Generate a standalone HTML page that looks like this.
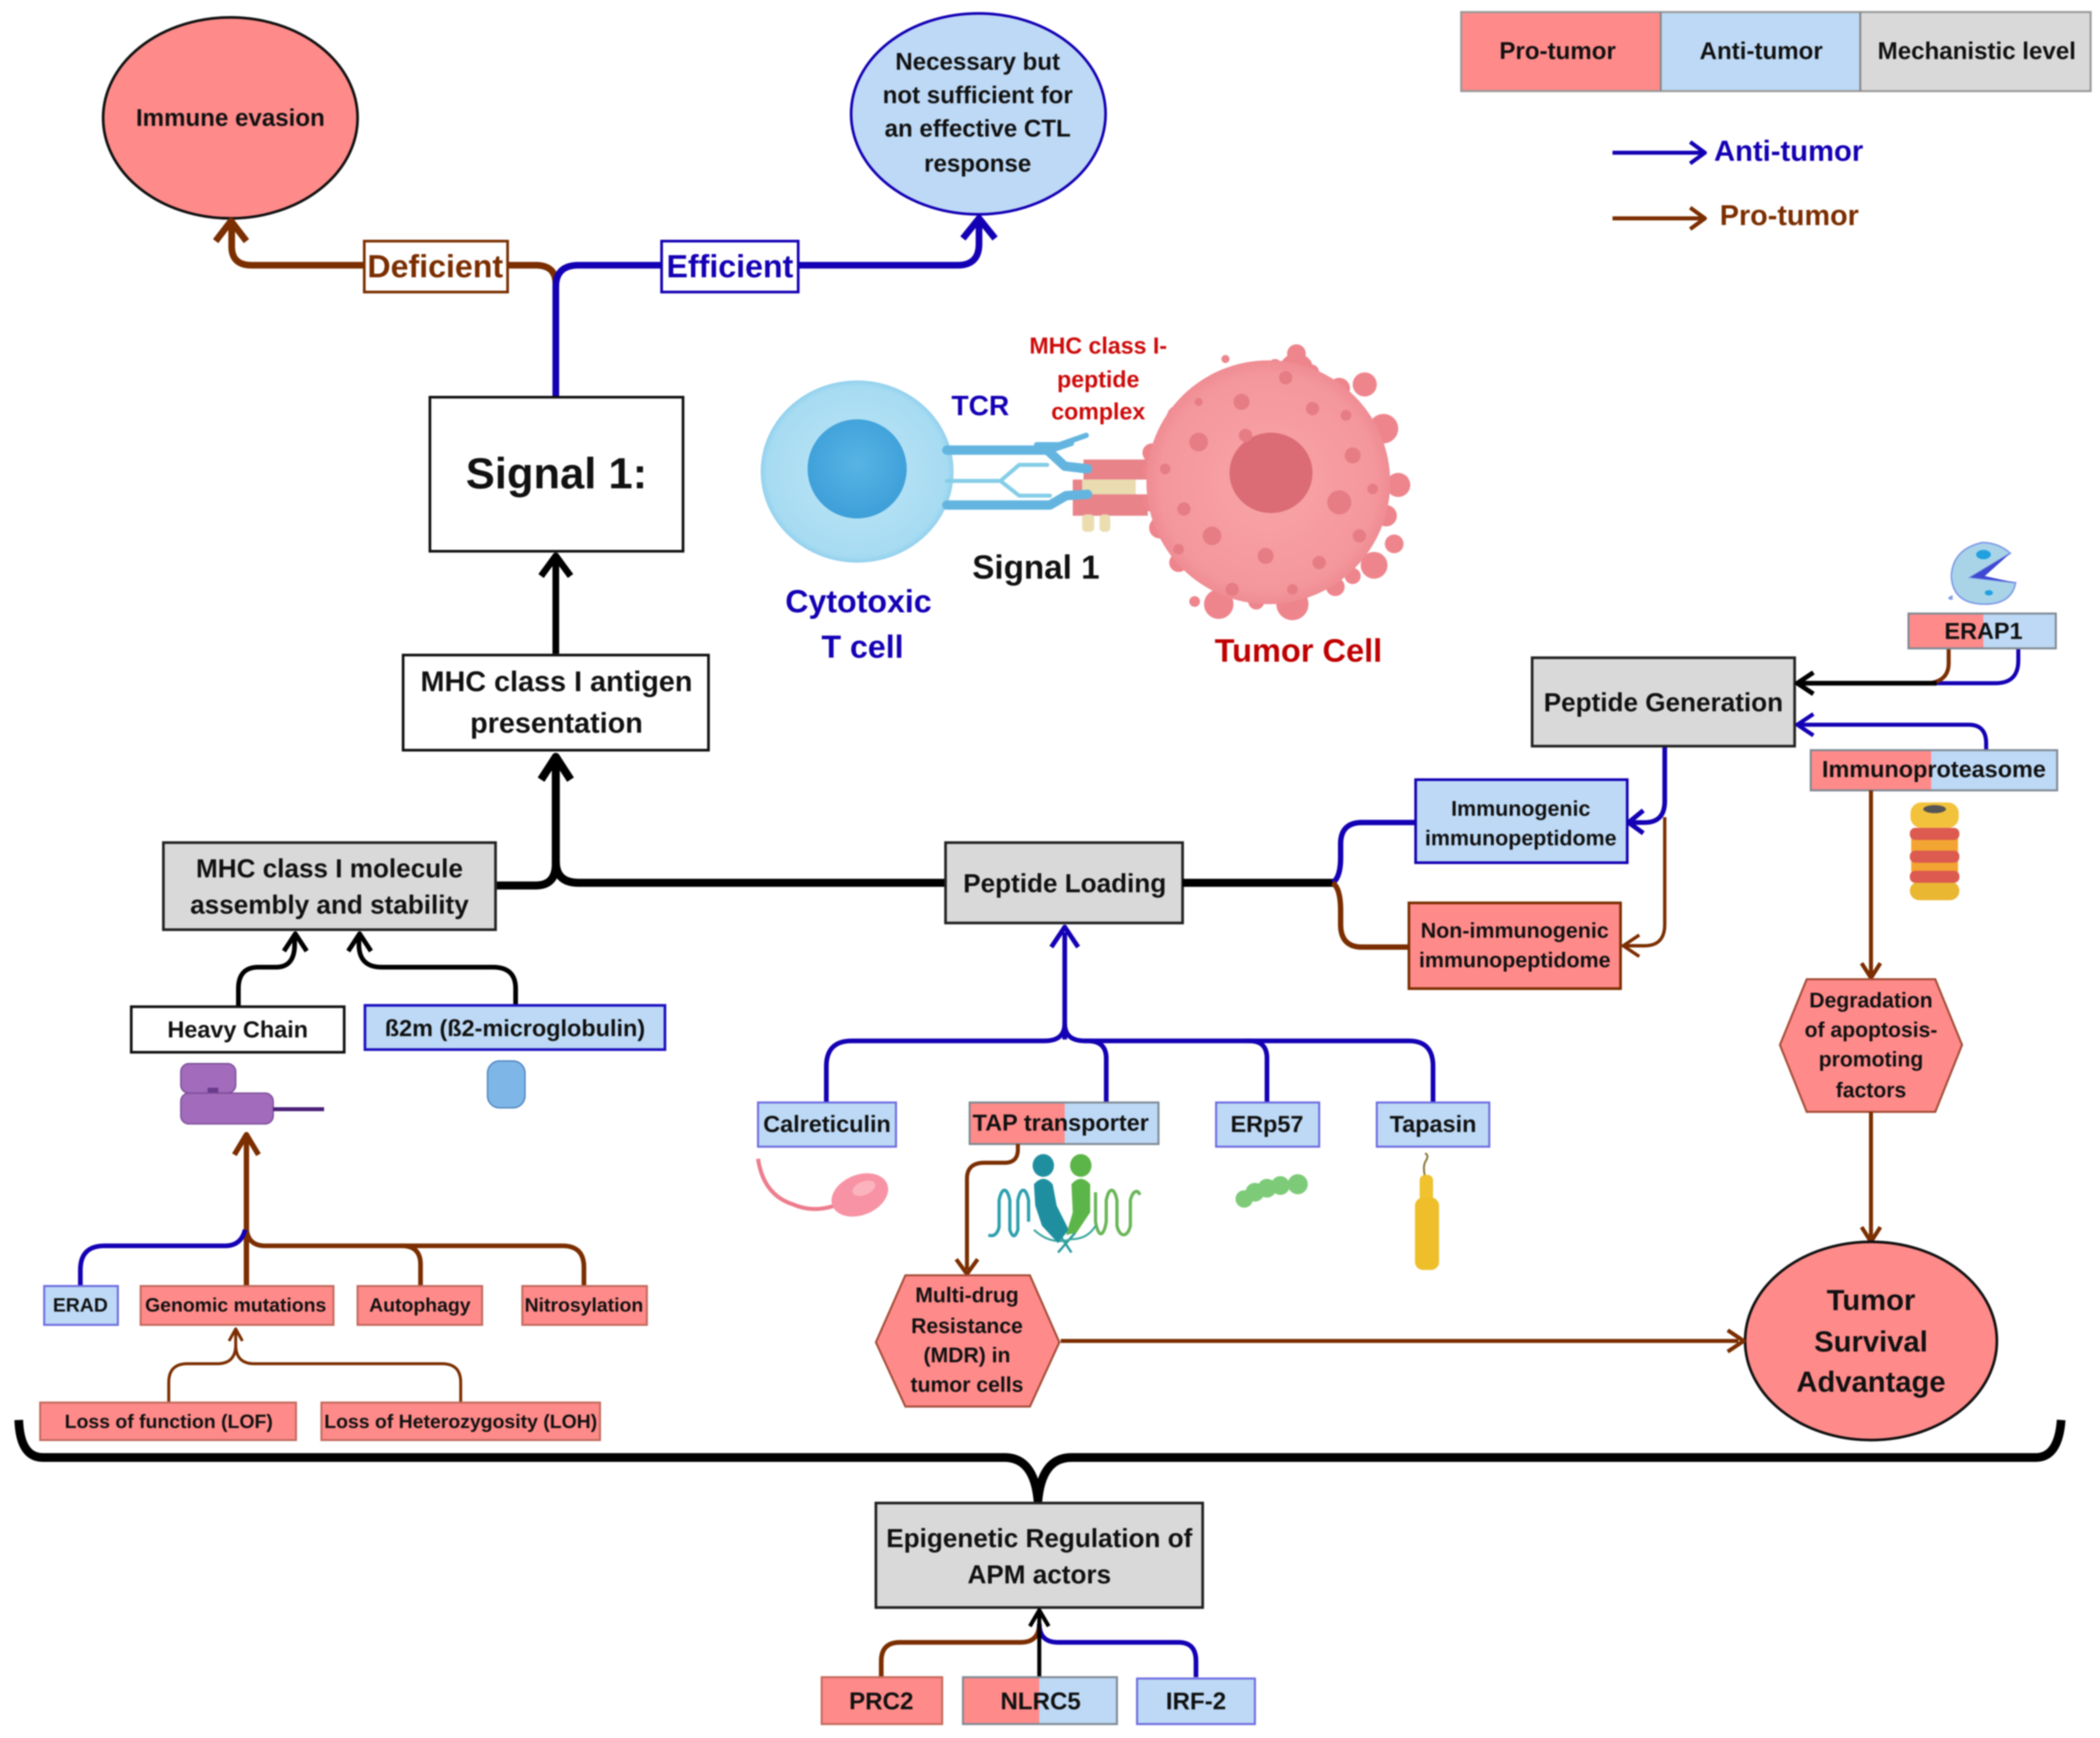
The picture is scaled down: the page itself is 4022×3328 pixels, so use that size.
<!DOCTYPE html>
<html><head><meta charset="utf-8"><title>Signal 1 antigen presentation diagram</title>
<style>
html,body{margin:0;padding:0;background:#fff}
svg{display:block;filter:blur(1.3px)}
text{font-family:"Liberation Sans",sans-serif;font-weight:700;text-anchor:middle;fill:#111}
.c{fill:none;stroke-linecap:butt;stroke-linejoin:round}
.b{stroke:#1400B4}.r{stroke:#7B2E00}.k{stroke:#000}
</style></head><body>
<svg xmlns="http://www.w3.org/2000/svg" width="4022" height="3328" viewBox="0 0 1568 1297.4" preserveAspectRatio="none">
<defs>
<radialGradient id="tc" cx=".5" cy=".5" r=".55"><stop offset="0" stop-color="#BFE6F6"/><stop offset=".85" stop-color="#A6DBF2"/><stop offset="1" stop-color="#74C0E6"/></radialGradient>
<radialGradient id="tn" cx=".5" cy=".45" r=".6"><stop offset="0" stop-color="#58B4E4"/><stop offset="1" stop-color="#3B9DD8"/></radialGradient>
<radialGradient id="tu" cx=".5" cy=".5" r=".55"><stop offset="0" stop-color="#F9A5A8"/><stop offset=".8" stop-color="#F4979C"/><stop offset="1" stop-color="#EA838B"/></radialGradient>
</defs>
<rect width="1568" height="1298" fill="#fff"/>

<!-- legend -->
<rect x="1091" y="9" width="149" height="59" fill="#FF8A8A"/>
<rect x="1240" y="9" width="149" height="59" fill="#BDD9F5"/>
<rect x="1389" y="9" width="172" height="59" fill="#D9D9D9"/>
<rect x="1091" y="9" width="470" height="59" fill="none" stroke="#999" stroke-width="1.5"/>
<path d="M1240 9V68M1389 9V68" stroke="#888" stroke-width="1.5"/>
<text x="1163" y="44" font-size="18">Pro-tumor</text>
<text x="1315" y="44" font-size="18">Anti-tumor</text>
<text x="1476" y="44" font-size="18">Mechanistic level</text>
<path class="c b" stroke-width="3" d="M1204 114H1272M1262 106L1273 114L1262 122"/>
<text x="1335.500" y="120" font-size="21.800" style="fill:#1400B4">Anti-tumor</text>
<path class="c r" stroke-width="3" d="M1204 163H1272M1262 155L1273 163L1262 171"/>
<text x="1336" y="168" font-size="21.500" style="fill:#7B2E00">Pro-tumor</text>

<!-- outcome ellipses -->
<ellipse cx="172" cy="88" rx="95" ry="75" fill="#FF8A8A" stroke="#111" stroke-width="2"/>
<text x="172" y="94" font-size="18">Immune evasion</text>
<ellipse cx="730.500" cy="85" rx="95" ry="75" fill="#BDD9F5" stroke="#1400B4" stroke-width="2"/>
<text x="730" y="52" font-size="18">Necessary but</text>
<text x="730" y="77" font-size="18">not sufficient for</text>
<text x="730" y="102" font-size="18">an effective CTL</text>
<text x="730" y="128" font-size="18">response</text>

<!-- top connectors -->
<path class="c r" stroke-width="5" d="M415 212Q415 198 400 198H188Q173 198 173 184V167M161 180L172.500 165L184 180"/>
<path class="c b" stroke-width="5" d="M415 296V214Q415 198 432 198H715Q731 198 731 182V165M719 178L731 163L743 178"/>
<rect x="272" y="180" width="107" height="38" fill="#fff" stroke="#7B2E00" stroke-width="2"/>
<text x="325" y="207" font-size="24" style="fill:#7B2E00">Deficient</text>
<rect x="494" y="180" width="102" height="38" fill="#fff" stroke="#1400B4" stroke-width="2"/>
<text x="545" y="207" font-size="24" style="fill:#1400B4">Efficient</text>

<rect x="321" y="296.500" width="189" height="115" fill="#fff" stroke="#111" stroke-width="2"/>
<text x="415.500" y="364.500" font-size="32.500">Signal 1:</text>

<path class="c k" stroke-width="5" d="M415 488V418M404 430L415 415L426 430"/>
<rect x="301" y="489" width="228" height="71" fill="#fff" stroke="#111" stroke-width="2"/>
<text x="415.500" y="516" font-size="21.500">MHC class I antigen</text>
<text x="415.500" y="547" font-size="21.500">presentation</text>

<!-- main black -->
<path class="c k" stroke-width="6" d="M371 661H400Q415 661 415 645V568M404 582L415 565L426 582"/>
<path class="c k" stroke-width="6" d="M706 659H432Q415 659 415 643"/>
<rect x="122" y="629" width="248" height="65" fill="#D9D9D9" stroke="#222" stroke-width="2"/>
<text x="246" y="655" font-size="19.500">MHC class I molecule</text>
<text x="246" y="682" font-size="19.500">assembly and stability</text>
<rect x="706" y="629" width="177" height="60" fill="#D9D9D9" stroke="#222" stroke-width="2"/>
<text x="795" y="666" font-size="19.500">Peptide Loading</text>
<path class="c k" stroke-width="6" d="M883 659H996"/>
<path class="c b" stroke-width="4" d="M995 659Q1001 655 1001 640V630Q1001 614 1017 614H1057"/>
<path class="c r" stroke-width="4" d="M995 659Q1001 663 1001 680V690Q1001 707 1017 707H1052"/>
<rect x="1057" y="582" width="158" height="62" fill="#BDD9F5" stroke="#1400B4" stroke-width="2"/>
<text x="1135.500" y="609" font-size="16">Immunogenic</text>
<text x="1135.500" y="631" font-size="16">immunopeptidome</text>
<rect x="1052" y="674" width="158" height="64" fill="#FF8A8A" stroke="#7B2E00" stroke-width="2"/>
<text x="1131" y="700" font-size="16">Non-immunogenic</text>
<text x="1131" y="722" font-size="16">immunopeptidome</text>

<!-- peptide generation -->
<path class="c b" stroke-width="3.500" d="M1243 557V598Q1243 614 1228 614H1218M1227 605L1216 614L1227 622"/>
<path class="c r" stroke-width="2.500" d="M1243 610V690Q1243 706 1228 706H1214M1224 698L1212 706L1224 714"/>
<rect x="1144" y="491" width="196" height="66" fill="#D9D9D9" stroke="#222" stroke-width="2"/>
<text x="1242" y="531" font-size="19.500">Peptide Generation</text>
<path class="c b" stroke-width="3" d="M1507 484V493Q1507 510 1490 510H1445"/>
<path class="c r" stroke-width="3" d="M1455 484V495Q1455 508 1441 510"/>
<path class="c k" stroke-width="3.500" d="M1446 510H1344M1354 502L1342 510L1354 518"/>
<path class="c b" stroke-width="3" d="M1483 560V555Q1483 541 1470 541H1344M1354 533L1342 541L1354 549"/>
<rect x="1425" y="458" width="56" height="26" fill="#FF8A8A"/>
<rect x="1481" y="458" width="54" height="26" fill="#BDD9F5"/>
<rect x="1425" y="458" width="110" height="26" fill="none" stroke="#7F8A94" stroke-width="1.500"/>
<text x="1481" y="477" font-size="17.500">ERAP1</text>
<rect x="1352" y="560" width="90" height="30" fill="#FF8A8A"/>
<rect x="1442" y="560" width="94" height="30" fill="#BDD9F5"/>
<rect x="1352" y="560" width="184" height="30" fill="none" stroke="#7F8A94" stroke-width="1.500"/>
<text x="1444" y="580" font-size="17.500">Immunoproteasome</text>

<!-- pacman -->
<g>
<path d="M1501 413Q1492 405 1480 405Q1458 410 1457 430Q1458 451 1482 451Q1502 451 1505 435L1471 431Z" fill="#A9D4E8" stroke="#7F9BE6" stroke-width="1.200"/>
<path d="M1501 413L1471 431L1505 435L1482 430Z" fill="#3F48D0"/>
<ellipse cx="1481" cy="414" rx="5.500" ry="3.500" fill="#21A0E0"/>
<ellipse cx="1485" cy="442.500" rx="3" ry="2" fill="#21A0E0"/>
<path d="M1458 447Q1453 447 1458 445" stroke="#7F9BE6" fill="none" stroke-width="1.500"/>
</g>

<!-- immunoproteasome icon -->
<g>
<rect x="1426.500" y="599" width="36" height="19" rx="8" fill="#F2C23C"/>
<rect x="1426" y="658" width="37" height="14" rx="7" fill="#E9B732"/>
<rect x="1427" y="626" width="35" height="10" fill="#F2A532"/>
<rect x="1427" y="643" width="35" height="8" fill="#F2A532"/>
<rect x="1426" y="618" width="37" height="9" rx="4" fill="#DC5A50"/>
<rect x="1426" y="635" width="37" height="9" rx="4" fill="#DC5A50"/>
<rect x="1426" y="650" width="37" height="9" rx="4" fill="#DC5A50"/>
<ellipse cx="1444.500" cy="604" rx="8.500" ry="3" fill="#555"/>
</g>

<!-- right brown flow -->
<path class="c r" stroke-width="3" d="M1397 590V727M1390 719L1397 730L1404 719"/>
<polygon points="1329,780 1349,731 1445,731 1465,780 1445,830 1349,830" fill="#FF8A8A" stroke="#A24B35" stroke-width="1.500"/>
<text x="1397" y="752" font-size="15.800">Degradation</text>
<text x="1397" y="774" font-size="15.800">of apoptosis-</text>
<text x="1397" y="796" font-size="15.800">promoting</text>
<text x="1397" y="819" font-size="15.800">factors</text>
<path class="c r" stroke-width="3" d="M1397 830V924M1390 916L1397 927L1404 916"/>
<ellipse cx="1397" cy="1001" rx="94" ry="74" fill="#FF8A8A" stroke="#111" stroke-width="2"/>
<text x="1397" y="978" font-size="21.800">Tumor</text>
<text x="1397" y="1009" font-size="21.800">Survival</text>
<text x="1397" y="1039" font-size="21.800">Advantage</text>

<!-- peptide loading inputs -->
<path class="c b" stroke-width="3.500" d="M795 776V696M785 707L795 692L805 707"/>
<path class="c b" stroke-width="3.500" d="M617 823V796Q617 777 636 777H780Q795 777 795 764Q795 777 810 777H1052Q1070 777 1070 796V823"/>
<path class="c b" stroke-width="3.500" d="M810 777H812Q826 777 826 790V823M930 777H933Q946 777 946 790V823"/>
<rect x="566" y="823" width="103" height="33" fill="#BDD9F5" stroke="#6D6BE0" stroke-width="1.500"/>
<text x="617.500" y="845" font-size="17.500">Calreticulin</text>
<rect x="724" y="823" width="71" height="31" fill="#FF8A8A"/>
<rect x="795" y="823" width="70" height="31" fill="#BDD9F5"/>
<rect x="724" y="823" width="141" height="31" fill="none" stroke="#7F8A94" stroke-width="1.500"/>
<text x="792" y="844" font-size="17.500">TAP transporter</text>
<rect x="908" y="823" width="77" height="33" fill="#BDD9F5" stroke="#6D6BE0" stroke-width="1.500"/>
<text x="946" y="845" font-size="17.500">ERp57</text>
<rect x="1028" y="823" width="84" height="33" fill="#BDD9F5" stroke="#6D6BE0" stroke-width="1.500"/>
<text x="1070" y="845" font-size="17.500">Tapasin</text>

<!-- TAP -> MDR -->
<path class="c r" stroke-width="3" d="M760 854V858Q760 868 750 868H735Q722 868 722 880V948M714 940L722 951L730 940"/>
<polygon points="654,1002 676,952 769,952 791,1002 769,1050 676,1050" fill="#FF8A8A" stroke="#A24B35" stroke-width="1.500"/>
<text x="722" y="972" font-size="15.800">Multi-drug</text>
<text x="722" y="995" font-size="15.800">Resistance</text>
<text x="722" y="1017" font-size="15.800">(MDR) in</text>
<text x="722" y="1039" font-size="15.800">tumor cells</text>
<path class="c r" stroke-width="3" d="M792 1001H1298M1290 993L1302 1001L1290 1009"/>

<!-- icons -->
<path d="M566 865Q570 892 592 899Q608 906 626 899" fill="none" stroke="#EE7C8C" stroke-width="3"/>
<ellipse cx="642" cy="892" rx="22" ry="15" fill="#F793A5" transform="rotate(-22 642 892)"/>
<ellipse cx="645" cy="887" rx="9" ry="5" fill="#FBB4BE" transform="rotate(-22 645 887)"/>
<g fill="none" stroke-width="2.400">
<path d="M738 922Q744 924 746 916V896C748 886 752 886 754 896V918C756 924 758 924 760 918V896C762 886 766 886 768 896V912" stroke="#2DA0AE"/>
<path d="M818 890V912C820 924 824 924 826 912V896C828 886 832 886 834 896V915C836 924 842 924 844 915V896C846 888 850 888 851 892" stroke="#69B656"/>
<path d="M790 920L800 935M803 920L790 935" stroke="#2D9C9E" stroke-width="1.800"/>
<path d="M772 918Q785 930 800 925Q812 925 818 915" stroke="#3AA7A0" stroke-width="1.500"/>
</g>
<ellipse cx="779" cy="870" rx="8" ry="8.500" fill="#1F8FA0"/><ellipse cx="807" cy="870" rx="8" ry="8.500" fill="#5CB548"/>
<path d="M772 884Q779 876 786 884L789 900L798 918L790 928L778 915L773 900Z" fill="#1F8FA0"/>
<path d="M800 884Q807 876 814 884V905L804 920L796 922L801 905Z" fill="#5CB548"/>
<g fill="#7DCB78"><circle cx="929" cy="895" r="6.500"/><circle cx="937" cy="890" r="7"/><circle cx="946" cy="887" r="7"/><circle cx="956" cy="885" r="7"/><circle cx="969" cy="884" r="7.500"/></g>
<path d="M1064 878Q1062 870 1065 866Q1067 862 1064 861" fill="none" stroke="#8C7A3C" stroke-width="1.500"/>
<rect x="1060" y="877" width="10" height="22" rx="4" fill="#EFC22E"/>
<rect x="1056.500" y="894" width="18" height="54" rx="6" fill="#EEBF2A"/>

<!-- heavy chain -->
<path class="c k" stroke-width="3.500" d="M178 751V738Q178 722 193 722H206Q220 722 220 705V698M212 710L220.500 697L229 710"/>
<path class="c k" stroke-width="3.500" d="M385 750V738Q385 722 368 722H285Q268 722 268 705V698M260 710L268.500 697L277 710"/>
<rect x="98" y="751.500" width="159" height="34" fill="#fff" stroke="#111" stroke-width="2"/>
<text x="177.500" y="774.500" font-size="17.500">Heavy Chain</text>
<rect x="272.500" y="750.500" width="224" height="33" fill="#BDD9F5" stroke="#1E10C0" stroke-width="2"/>
<text x="384.500" y="773.500" font-size="17.500">ß2m (ß2-microglobulin)</text>
<rect x="135" y="794" width="41" height="22" rx="6" fill="#A36BBB" stroke="#7A4C98"/>
<rect x="155" y="812" width="8" height="6" fill="#6A3A8E"/>
<rect x="135" y="816" width="69" height="23" rx="6" fill="#A36BBB" stroke="#7A4C98"/>
<path d="M204 828H242" stroke="#4A1F78" stroke-width="3"/>
<rect x="364" y="792" width="28" height="35" rx="9" fill="#7FB6E8" stroke="#4D84BD"/>

<!-- lower left flows -->
<path class="c r" stroke-width="4" d="M184 960V850M175 862L184 847L193 862"/>
<path class="c r" stroke-width="3.500" d="M184 915Q184 930 198 930H300Q314 930 314 944V960"/>
<path class="c r" stroke-width="3.500" d="M298 930H420Q436 930 436 946V960"/>
<path class="c b" stroke-width="3.500" d="M183 918Q180 930 168 930H78Q60 930 60 948V960"/>
<rect x="33" y="960" width="55" height="29" fill="#BDD9F5" stroke="#6D6BE0" stroke-width="1.500"/>
<text x="60" y="979" font-size="14.500">ERAD</text>
<rect x="105" y="960" width="144" height="29" fill="#FF8A8A" stroke="#C36B5E" stroke-width="1.500"/>
<text x="176" y="979" font-size="14.500">Genomic mutations</text>
<rect x="267" y="960" width="93" height="29" fill="#FF8A8A" stroke="#C36B5E" stroke-width="1.500"/>
<text x="313.500" y="979" font-size="14.500">Autophagy</text>
<rect x="390" y="960" width="93" height="29" fill="#FF8A8A" stroke="#C36B5E" stroke-width="1.500"/>
<text x="436" y="979" font-size="14.500">Nitrosylation</text>
<path class="c r" stroke-width="2.200" d="M126 1047V1032Q126 1018 140 1018H162Q176 1018 176 1004V994M171 1001L176 992L181 1001"/>
<path class="c r" stroke-width="2.200" d="M344 1047V1032Q344 1018 330 1018H190Q176 1018 176 1004"/>
<rect x="30" y="1047" width="191" height="28" fill="#FF8A8A" stroke="#C36B5E" stroke-width="1.500"/>
<text x="126" y="1066" font-size="14.500">Loss of function (LOF)</text>
<rect x="240" y="1047" width="208" height="28" fill="#FF8A8A" stroke="#C36B5E" stroke-width="1.500"/>
<text x="344" y="1066" font-size="14.500">Loss of Heterozygosity (LOH)</text>

<!-- brace -->
<path class="c k" stroke-width="6.500" d="M14 1060Q15 1088 32 1088H750Q772 1088 775 1120Q778 1088 800 1088H1520Q1537 1088 1539 1060"/>
<rect x="654" y="1122" width="244" height="78" fill="#D9D9D9" stroke="#222" stroke-width="2"/>
<text x="776" y="1155" font-size="19.500">Epigenetic Regulation of</text>
<text x="776" y="1182" font-size="19.500">APM actors</text>
<path class="c r" stroke-width="3.500" d="M658 1252V1240Q658 1226 672 1226H762Q776 1226 776 1212"/>
<path class="c b" stroke-width="3.500" d="M893 1252V1240Q893 1226 880 1226H790Q776 1226 776 1212"/>
<path class="c k" stroke-width="3" d="M776 1252V1205M769 1214L776 1202L783 1214"/>
<rect x="613.500" y="1252" width="90" height="35" fill="#FF8A8A" stroke="#C36B5E" stroke-width="1.500"/>
<text x="658" y="1276" font-size="18">PRC2</text>
<rect x="719" y="1252" width="57" height="35" fill="#FF8A8A"/>
<rect x="776" y="1252" width="58" height="35" fill="#BDD9F5"/>
<rect x="719" y="1252" width="115" height="35" fill="none" stroke="#7F8A94" stroke-width="1.500"/>
<text x="777" y="1276" font-size="18">NLRC5</text>
<rect x="849" y="1253" width="88" height="34" fill="#BDD9F5" stroke="#6D6BE0" stroke-width="1.500"/>
<text x="893" y="1276" font-size="18">IRF-2</text>

<!-- T cell -->
<ellipse cx="640" cy="352" rx="72" ry="68" fill="url(#tc)"/>
<ellipse cx="640" cy="350" rx="37" ry="37" fill="url(#tn)"/>
<!-- MHC -->
<rect x="809" y="343" width="48" height="15" fill="#E8838A"/>
<rect x="801" y="369" width="56" height="16" fill="#E8838A"/>
<rect x="801" y="358" width="12" height="10" fill="#E8838A"/>
<rect x="808" y="358" width="40" height="11" fill="#E8DCB0"/>
<rect x="808" y="384" width="9" height="13" rx="3" fill="#EBDDB0"/>
<rect x="821" y="384" width="8" height="13" rx="3" fill="#EBDDB0"/>
<g fill="none" stroke-linecap="round" stroke-linejoin="round">
<path d="M707 359H747L761 347H782M747 359L761 370H784" stroke="#86CEE8" stroke-width="3"/>
<path d="M707 336H782L795 348L812 350" stroke="#63B5E0" stroke-width="7"/>
<path d="M707 377H784L796 370L812 369" stroke="#63B5E0" stroke-width="7"/>
<path d="M774 332L791 332L811 325M782 337L800 331" stroke="#63B5E0" stroke-width="4"/>
</g>

<!-- tumor cell -->
<g fill="#EE858D">
<circle cx="968" cy="264" r="7"/><ellipse cx="968" cy="274" rx="12" ry="10"/><circle cx="952" cy="273" r="5"/><circle cx="979" cy="278" r="6"/><circle cx="1019" cy="287" r="9"/>
<circle cx="897" cy="293" r="7"/><circle cx="881" cy="312" r="10"/><circle cx="1033" cy="320" r="11"/><circle cx="860" cy="338" r="7"/>
<circle cx="1044" cy="362" r="9"/><circle cx="861" cy="352" r="8"/><circle cx="866" cy="394" r="8"/><circle cx="1041" cy="406" r="7"/>
<circle cx="1026" cy="422" r="10"/><circle cx="907" cy="427" r="7"/><circle cx="997" cy="438" r="7"/><circle cx="910" cy="451" r="11"/>
<circle cx="965" cy="451" r="12"/><circle cx="938" cy="449" r="6"/><circle cx="892" cy="449" r="4"/><circle cx="915" cy="268" r="3"/>
<circle cx="880" cy="420" r="7"/><circle cx="1010" cy="430" r="6"/><circle cx="1000" cy="290" r="8"/><circle cx="930" cy="278" r="7"/><circle cx="1035" cy="385" r="8"/><circle cx="860" cy="375" r="7"/>
</g>
<circle cx="947" cy="360" r="91" fill="url(#tu)"/>
<g fill="#E67D85">
<ellipse cx="949" cy="353" rx="31" ry="30" fill="#DB6C76"/>
<circle cx="895" cy="330" r="7"/><circle cx="927" cy="300" r="6"/><circle cx="980" cy="305" r="5"/><circle cx="1010" cy="340" r="6"/>
<circle cx="1000" cy="375" r="9"/><circle cx="884" cy="380" r="5"/><circle cx="905" cy="400" r="7"/><circle cx="945" cy="415" r="6"/>
<circle cx="985" cy="420" r="5"/><circle cx="1015" cy="400" r="5"/><circle cx="870" cy="350" r="4"/><circle cx="960" cy="282" r="5"/>
<circle cx="1005" cy="310" r="4"/><circle cx="920" cy="440" r="5"/><circle cx="965" cy="440" r="4"/><circle cx="895" cy="300" r="3"/>
<circle cx="1025" cy="365" r="4"/><circle cx="880" cy="410" r="4"/><circle cx="930" cy="325" r="5"/>
</g>

<text x="732" y="310" font-size="21" style="fill:#1400B4">TCR</text>
<text x="820" y="264" font-size="17.300" style="fill:#CE0A0A">MHC class I-</text>
<text x="820" y="289" font-size="17.300" style="fill:#CE0A0A">peptide</text>
<text x="820" y="313" font-size="17.300" style="fill:#CE0A0A">complex</text>
<text x="773.500" y="432" font-size="24.800">Signal 1</text>
<text x="641" y="457" font-size="24" style="fill:#1400B4">Cytotoxic</text>
<text x="644" y="491" font-size="24" style="fill:#1400B4">T cell</text>
<text x="969.500" y="494" font-size="24.300" style="fill:#C00000">Tumor Cell</text>
</svg>
</body></html>
